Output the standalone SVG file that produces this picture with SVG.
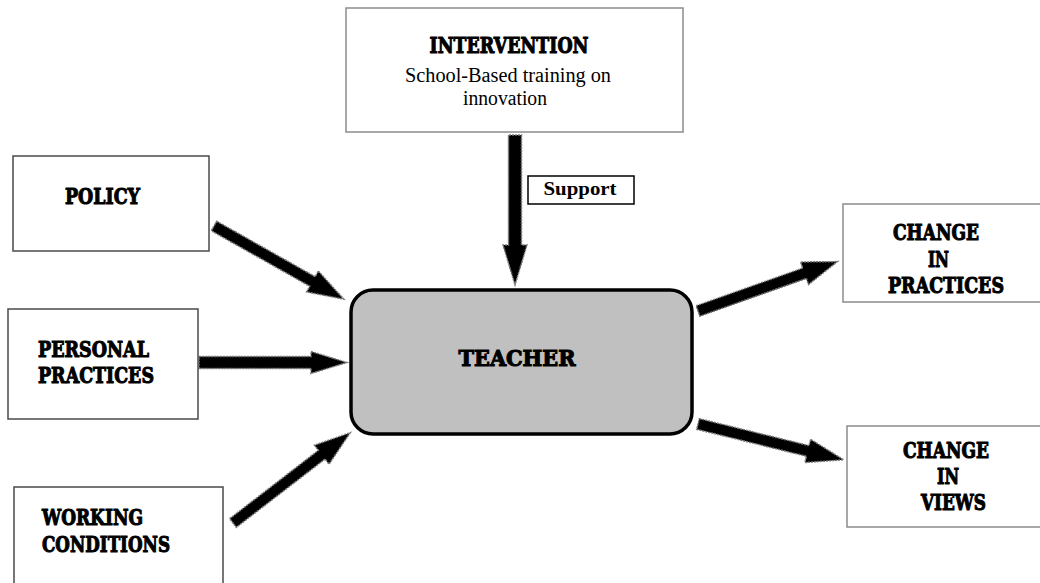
<svg xmlns="http://www.w3.org/2000/svg" width="1040" height="583" viewBox="0 0 1040 583">
  <style>
    .box { fill: #ffffff; stroke: #4a4a4a; stroke-width: 1.5; }
    .box-light { fill: #ffffff; stroke: #8c8c8c; stroke-width: 1.5; }
    .hub { fill: #c0c0c0; stroke: #000000; stroke-width: 3.5; }
    .head { font-family: "DejaVu Serif", "Liberation Serif", serif; font-weight: bold; font-size: 22px; fill: #000000; stroke: #000000; stroke-width: 1.1; }
    .plain { font-family: "Liberation Serif", serif; font-size: 20px; fill: #000000; }
    .label { font-family: "Liberation Serif", serif; font-weight: bold; font-size: 18px; fill: #000000; }
    .arrow { fill: #000000; stroke: #7a7a7a; stroke-width: 1.5; stroke-dasharray: 2 1; }
  </style>

  <!-- block arrows: tail at origin, tip at (L,0) -->
  <g id="connectors">
    <!-- intervention -> teacher -->
    <path class="arrow" transform="translate(515,135) rotate(90)" d="M0,-6.5 L110,-6.5 L110,-12 L150,0 L110,12 L110,6.5 L0,6.5 Z"/>
    <!-- policy -> teacher -->
    <path class="arrow" transform="translate(214,226) rotate(29.4)" d="M0,-5.5 L113,-5.5 L113,-12 L149,0 L113,12 L113,5.5 L0,5.5 Z"/>
    <!-- personal practices -> teacher -->
    <path class="arrow" transform="translate(199,362.5)" d="M0,-6 L112,-6 L112,-11 L148,0 L112,11 L112,6 L0,6 Z"/>
    <!-- working conditions -> teacher -->
    <path class="arrow" transform="translate(233,523) rotate(-37.6)" d="M0,-5.5 L112,-5.5 L112,-12 L148,0 L112,12 L112,5.5 L0,5.5 Z"/>
    <!-- teacher -> change in practices -->
    <path class="arrow" transform="translate(698,311) rotate(-19.5)" d="M0,-5.5 L113,-5.5 L113,-12 L148,0 L113,12 L113,5.5 L0,5.5 Z"/>
    <!-- teacher -> change in views -->
    <path class="arrow" transform="translate(698,424) rotate(13.8)" d="M0,-5.5 L113,-5.5 L113,-12 L150,0 L113,12 L113,5.5 L0,5.5 Z"/>
  </g>

  <g id="intervention">
    <rect class="box-light" x="346" y="8" width="337" height="124"/>
    <text class="head" x="509" y="53" text-anchor="middle" textLength="159" lengthAdjust="spacingAndGlyphs">INTERVENTION</text>
    <text class="plain" x="508" y="82" text-anchor="middle" textLength="206" lengthAdjust="spacingAndGlyphs">School-Based training on</text>
    <text class="plain" x="505" y="105" text-anchor="middle" textLength="84" lengthAdjust="spacingAndGlyphs">innovation</text>
  </g>

  <g id="support">
    <rect x="528" y="176" width="106" height="28" fill="#ffffff" stroke="#000000" stroke-width="1.5"/>
    <text class="label" x="580" y="195" text-anchor="middle" textLength="73" lengthAdjust="spacingAndGlyphs">Support</text>
  </g>

  <g id="teacher">
    <rect class="hub" x="351" y="290" width="341" height="144" rx="22" ry="22"/>
    <text class="head" x="517" y="366" text-anchor="middle" textLength="117" lengthAdjust="spacingAndGlyphs">TEACHER</text>
  </g>

  <g id="policy">
    <rect class="box" x="13" y="156" width="196" height="95"/>
    <text class="head" x="65" y="204" textLength="75" lengthAdjust="spacingAndGlyphs">POLICY</text>
  </g>

  <g id="personal-practices">
    <rect class="box" x="8" y="309" width="190" height="110"/>
    <text class="head" x="38" y="357" textLength="111" lengthAdjust="spacingAndGlyphs">PERSONAL</text>
    <text class="head" x="38" y="383" textLength="116" lengthAdjust="spacingAndGlyphs">PRACTICES</text>
  </g>

  <g id="working-conditions">
    <rect class="box" x="14" y="487" width="209" height="110"/>
    <text class="head" x="42" y="525" textLength="101" lengthAdjust="spacingAndGlyphs">WORKING</text>
    <text class="head" x="42" y="552" textLength="128" lengthAdjust="spacingAndGlyphs">CONDITIONS</text>
  </g>

  <g id="change-in-practices">
    <rect class="box-light" x="843" y="204" width="210" height="98"/>
    <text class="head" x="893" y="240" textLength="86" lengthAdjust="spacingAndGlyphs">CHANGE</text>
    <text class="head" x="928" y="267" textLength="21" lengthAdjust="spacingAndGlyphs">IN</text>
    <text class="head" x="888" y="293" textLength="116" lengthAdjust="spacingAndGlyphs">PRACTICES</text>
  </g>

  <g id="change-in-views">
    <rect class="box-light" x="847" y="426" width="206" height="101"/>
    <text class="head" x="903" y="458" textLength="86" lengthAdjust="spacingAndGlyphs">CHANGE</text>
    <text class="head" x="937" y="484" textLength="22" lengthAdjust="spacingAndGlyphs">IN</text>
    <text class="head" x="921" y="510" textLength="65" lengthAdjust="spacingAndGlyphs">VIEWS</text>
  </g>
</svg>
